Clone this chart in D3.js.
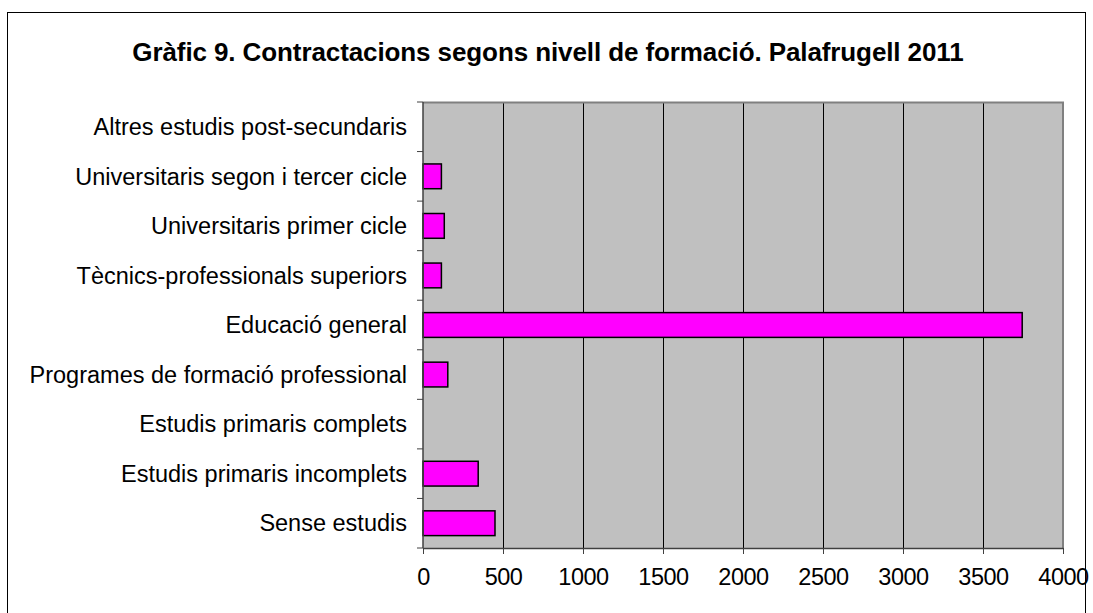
<!DOCTYPE html>
<html>
<head>
<meta charset="utf-8">
<script src="https://cdn.jsdelivr.net/npm/d3@7"></script>
<style>
  body { margin: 0; background: #fff; }
  svg { display: block; font-family: "Liberation Sans", Arial, sans-serif; }
</style>
</head>
<body>
<div id="chart"></div>
<script>
// categories from top to bottom, as in the picture
var categories = [
    "Altres estudis post-secundaris",
    "Universitaris segon i tercer cicle",
    "Universitaris primer cicle",
    "Tècnics-professionals superiors",
    "Educació general",
    "Programes de formació professional",
    "Estudis primaris complets",
    "Estudis primaris incomplets",
    "Sense estudis"
];
var contractacions = [0, 115, 133, 115, 3745, 155, 0, 345, 450];
var xTicks = [0, 500, 1000, 1500, 2000, 2500, 3000, 3500, 4000];
var title = "Gràfic 9. Contractacions segons nivell de formació. Palafrugell 2011";

var width = 1093, height = 613;
var margin = {top: 102, right: 30, bottom: 65, left: 423};

var svg = d3.select("#chart").append("svg")
    .attr("width", width)
    .attr("height", height);

// outer frame
svg.append("rect")
    .attr("x", 7.5).attr("y", 12.5)
    .attr("width", 1078).attr("height", 620)
    .attr("fill", "#fff")
    .attr("stroke", "#000")
    .attr("stroke-width", 1);

svg.append("text")
    .attr("x", 548).attr("y", 61)
    .attr("text-anchor", "middle")
    .attr("font-size", 26)
    .attr("font-weight", "bold")
    .attr("letter-spacing", -0.1)
    .text(title);

var x = d3.scaleLinear()
    .domain([0, 4000])
    .range([margin.left, 1063]);

var y = d3.scaleBand()
    .domain(categories)
    .range([margin.top, 548])
    .paddingInner(0.5)
    .paddingOuter(0.25);

var yOuter = d3.scaleBand()
    .domain(categories)
    .range([margin.top, 548]);

// plot background
svg.append("rect")
    .attr("x", x(0)).attr("y", margin.top)
    .attr("width", x(4000) - x(0))
    .attr("height", 548 - margin.top)
    .attr("fill", "#c0c0c0");

// vertical gridlines
svg.append("g")
    .selectAll("line")
    .data(xTicks.slice(1, -1))
    .join("line")
    .attr("x1", d => x(d) + 0.5).attr("x2", d => x(d) + 0.5)
    .attr("y1", margin.top).attr("y2", 548)
    .attr("stroke", "#000")
    .attr("stroke-width", 1);

// top and right edges of the plot area
svg.append("path")
    .attr("d", `M${x(0)},${margin.top + 0.5}H${x(4000)}V548`)
    .attr("fill", "none")
    .attr("stroke", "#808080")
    .attr("stroke-width", 2);

// bars
svg.append("g")
    .selectAll("rect")
    .data(categories)
    .join("rect")
    .attr("x", x(0))
    .attr("y", d => y(d))
    .attr("width", (d, i) => x(contractacions[i]) - x(0))
    .attr("height", y.bandwidth())
    .attr("fill", "#ff00ff")
    .attr("stroke", "#000")
    .attr("stroke-width", 1.5)
    .style("display", (d, i) => contractacions[i] > 0 ? null : "none");

// y axis
var yAxis = svg.append("g")
    .attr("transform", `translate(${x(0)},0)`);
yAxis.append("line")
    .attr("x1", 0).attr("x2", 0)
    .attr("y1", margin.top).attr("y2", 548)
    .attr("stroke", "#404040").attr("stroke-width", 1.5);
yAxis.selectAll(".tk")
    .data(d3.range(categories.length + 1))
    .join("line")
    .attr("class", "tk")
    .attr("x1", -6).attr("x2", 0)
    .attr("y1", i => margin.top + i * yOuter.step())
    .attr("y2", i => margin.top + i * yOuter.step())
    .attr("stroke", "#404040");
yAxis.selectAll("text")
    .data(categories)
    .join("text")
    .attr("x", -16)
    .attr("y", d => yOuter(d) + yOuter.bandwidth() / 2)
    .attr("dy", "0.35em")
    .attr("text-anchor", "end")
    .attr("font-size", 23.5)
    .attr("letter-spacing", 0)
    .text(d => d);

// x axis
var xAxis = svg.append("g")
    .attr("transform", "translate(0,548)")
    .call(d3.axisBottom(x).tickValues(xTicks).tickFormat(d3.format("d"))
        .tickSize(6).tickPadding(14).tickSizeOuter(0));
xAxis.select(".domain").attr("stroke", "#404040").attr("stroke-width", 1.5);
xAxis.selectAll(".tick line").attr("stroke", "#404040");
xAxis.selectAll(".tick text")
    .attr("font-size", 23.5)
    .attr("font-family", "Liberation Sans, Arial, sans-serif")
    .attr("letter-spacing", -0.5)
    .attr("fill", "#000");
</script>
</body>
</html>
